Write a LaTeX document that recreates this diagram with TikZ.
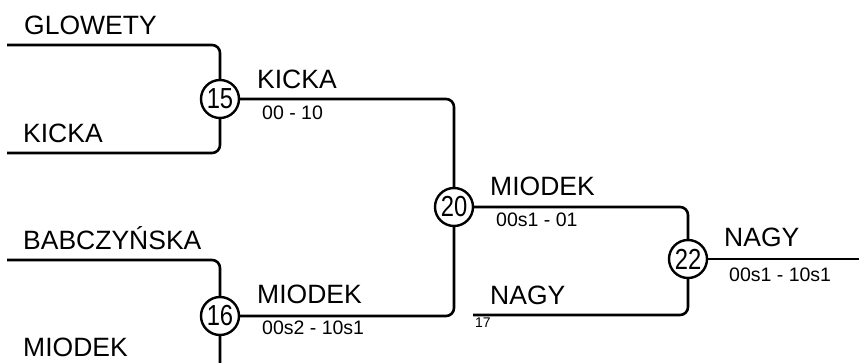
\documentclass[tikz,border=0pt]{standalone}
\usepackage{fontspec}
\setmainfont{Liberation Sans}
\newcommand{\seednum}[1]{\scalebox{0.82}[1]{#1}}
\begin{document}
\begin{tikzpicture}[x=1pt,y=-1pt,
  ln/.style={line width=2.6pt, rounded corners=8pt},
  seed/.style={circle, draw, line width=2.4pt, fill=white, minimum size=38pt, inner sep=0pt, font=\fontsize{29}{29}\selectfont},
  pname/.style={anchor=base west, inner sep=0pt, font=\fontsize{26.5}{26.5}\selectfont},
  score/.style={anchor=base west, inner sep=0pt, font=\fontsize{19.5}{19.5}\selectfont},
  tinylbl/.style={anchor=base west, inner sep=0pt, font=\fontsize{14}{14}\selectfont}]
\useasboundingbox (0,0) rectangle (859,363);
\clip (0,0) rectangle (859,363);
\coordinate (g) at (7,45);
\coordinate (k) at (7,153);
\coordinate (b) at (7,260);
\coordinate (m) at (7,374);
\coordinate (n) at (473,315);
\coordinate (e) at (859,259);
\node[seed] (c15) at (220,99) {\seednum{15}};
\node[seed] (c16) at (220,316) {\seednum{16}};
\node[seed] (c20) at (454,207) {\seednum{20}};
\node[seed] (c22) at (688,259) {\seednum{22}};
\draw[ln] (g) -| (c15);
\draw[ln] (k) -| (c15);
\draw[ln] (b) -| (c16);
\draw[ln] (m) -| (c16);
\draw[ln] (c15) -| (c20);
\draw[ln] (c16) -| (c20);
\draw[ln] (c20) -| (c22);
\draw[ln] (n) -| (c22);
\draw[ln] (c22) -- (e);
\node[pname] (t1) at (24,35) {GLOWETY};
\node[pname] (t2) at (23,143) {KICKA};
\node[pname] (t3) at (23,250) {BABCZYŃSKA};
\node[pname] (t4) at (23,356) {MIODEK};
\node[pname] (t5) at (257,89) {KICKA};
\node[score] (s5) at (262,120) {00 - 10};
\node[pname] (t6) at (257,303) {MIODEK};
\node[score] (s6) at (262,334) {00s2 - 10s1};
\node[pname] (t7) at (490,196) {MIODEK};
\node[score] (s7) at (496,227) {00s1 - 01};
\node[pname] (t8) at (490,304) {NAGY};
\node[tinylbl] (s8) at (475,327) {17};
\node[pname] (t9) at (724,247) {NAGY};
\node[score] (s9) at (729,281) {00s1 - 10s1};
\end{tikzpicture}
\end{document}
